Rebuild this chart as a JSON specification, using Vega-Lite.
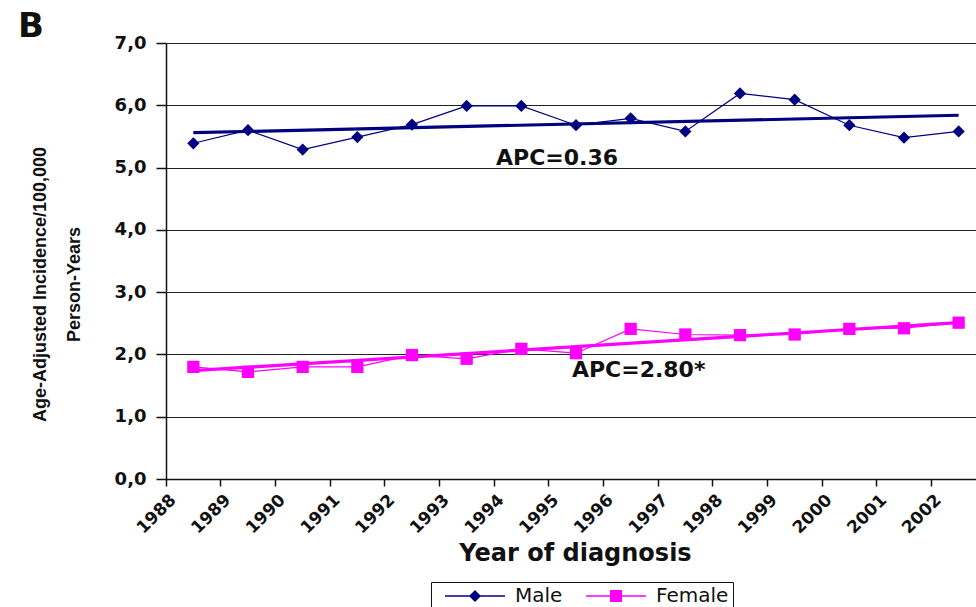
{
  "$schema": "https://vega.github.io/schema/vega-lite/v6.json",
  "width": 810,
  "height": 436,
  "autosize": {"type": "none"},
  "padding": {"left": 166, "top": 43, "right": 0, "bottom": 128},
  "background": "white",
  "title": {"text": "B", "anchor": "start", "frame": "group", "dx": -148, "dy": 16, "offset": 6, "font": "DejaVu Sans", "fontSize": 34, "fontWeight": "bold", "color": "#111"},
  "datasets": {
    "obs": [
      {"year": "1988", "sex": "Male", "rate": 5.39},
      {"year": "1989", "sex": "Male", "rate": 5.6},
      {"year": "1990", "sex": "Male", "rate": 5.29},
      {"year": "1991", "sex": "Male", "rate": 5.49},
      {"year": "1992", "sex": "Male", "rate": 5.69},
      {"year": "1993", "sex": "Male", "rate": 5.99},
      {"year": "1994", "sex": "Male", "rate": 5.99},
      {"year": "1995", "sex": "Male", "rate": 5.68},
      {"year": "1996", "sex": "Male", "rate": 5.79},
      {"year": "1997", "sex": "Male", "rate": 5.58},
      {"year": "1998", "sex": "Male", "rate": 6.19},
      {"year": "1999", "sex": "Male", "rate": 6.09},
      {"year": "2000", "sex": "Male", "rate": 5.68},
      {"year": "2001", "sex": "Male", "rate": 5.48},
      {"year": "2002", "sex": "Male", "rate": 5.58},
      {"year": "1988", "sex": "Female", "rate": 1.8},
      {"year": "1989", "sex": "Female", "rate": 1.72},
      {"year": "1990", "sex": "Female", "rate": 1.8},
      {"year": "1991", "sex": "Female", "rate": 1.8},
      {"year": "1992", "sex": "Female", "rate": 1.99},
      {"year": "1993", "sex": "Female", "rate": 1.93},
      {"year": "1994", "sex": "Female", "rate": 2.09},
      {"year": "1995", "sex": "Female", "rate": 2.02},
      {"year": "1996", "sex": "Female", "rate": 2.41},
      {"year": "1997", "sex": "Female", "rate": 2.32},
      {"year": "1998", "sex": "Female", "rate": 2.31},
      {"year": "1999", "sex": "Female", "rate": 2.32},
      {"year": "2000", "sex": "Female", "rate": 2.41},
      {"year": "2001", "sex": "Female", "rate": 2.42},
      {"year": "2002", "sex": "Female", "rate": 2.51}
    ],
    "trend": [
      {"year": "1988", "sex": "Male", "rate": 5.56},
      {"year": "2002", "sex": "Male", "rate": 5.84},
      {"year": "1988", "sex": "Female", "rate": 1.74},
      {"year": "2002", "sex": "Female", "rate": 2.51}
    ],
    "apcMale": [{"year": "1995", "rate": 5.15, "label": "APC=0.36"}],
    "apcFemale": [{"year": "1996", "rate": 1.75, "label": "APC=2.80*"}]
  },
  "encoding": {
    "x": {
      "field": "year", "type": "ordinal", "bandPosition": 0.5,
      "scale": {"type": "band", "range": [0, 820], "paddingInner": 0, "paddingOuter": 0},
      "axis": {
        "title": "Year of diagnosis",
        "titleFont": "DejaVu Sans", "titleFontSize": 24, "titleFontWeight": "bold", "titleColor": "#111",
        "titleX": 409, "titleY": 81, "titleBaseline": "alphabetic", "titleAlign": "center",
        "bandPosition": 0, "labelAngle": -45, "labelAlign": "right", "labelBaseline": "middle",
        "labelFont": "DejaVu Sans", "labelFontSize": 17, "labelFontWeight": "bold", "labelColor": "#111",
        "labelPadding": 11, "labelOffset": -20,
        "tickSize": 7, "tickColor": "#111", "tickWidth": 1.5,
        "domainColor": "#111", "domainWidth": 1.5, "grid": false
      }
    },
    "y": {
      "field": "rate", "type": "quantitative",
      "scale": {"domain": [0, 7], "nice": false, "zero": true},
      "axis": {
        "values": [0, 1, 2, 3, 4, 5, 6, 7],
        "labelExpr": "replace(format(datum.value, '.1f'), '.', ',')",
        "labelFont": "DejaVu Sans", "labelFontSize": 18, "labelFontWeight": "bold", "labelColor": "#111",
        "labelPadding": 10, "tickSize": 10, "tickColor": "#111", "tickWidth": 1.5,
        "domainColor": "#111", "domainWidth": 1.5,
        "grid": true, "gridColor": "#222", "gridWidth": 1.2,
        "title": ["Age-Adjusted Incidence/100,000", "Person-Years"],
        "titleFont": "Liberation Sans", "titleFontSize": 18, "titleFontWeight": "bold", "titleColor": "#111",
        "titleAngle": 270, "titleAlign": "center", "titleBaseline": "middle",
        "titleX": -126, "titleY": 241, "titleLineHeight": 34
      }
    }
  },
  "layer": [
    {
      "data": {"name": "obs"},
      "mark": {"type": "line", "strokeWidth": 1.2},
      "encoding": {
        "color": {
          "field": "sex", "type": "nominal",
          "scale": {"domain": ["Male", "Female"], "range": ["#000080", "#FF00FF"]},
          "legend": {
            "title": null, "orient": "none", "legendX": 265, "legendY": 539, "direction": "horizontal",
            "strokeColor": "#111", "fillColor": "white", "padding": 4,
            "symbolSize": 400, "symbolOpacity": 1, "symbolStrokeWidth": 0,
            "labelFont": "DejaVu Sans", "labelFontSize": 20, "labelColor": "#111",
            "labelOffset": 60, "columnPadding": 13, "labelLimit": 300
          }
        }
      }
    },
    {
      "data": {"name": "trend"},
      "mark": {"type": "line", "strokeWidth": 3.2},
      "encoding": {
        "color": {"field": "sex", "type": "nominal"}
      }
    },
    {
      "data": {"name": "obs"},
      "mark": {"type": "point", "filled": true, "opacity": 0, "size": 150},
      "encoding": {
        "color": {"field": "sex", "type": "nominal"},
        "shape": {
          "field": "sex", "type": "nominal",
          "scale": {"domain": ["Male", "Female"], "range": ["M0,-0.075H6V0.075H0Z M3,-0.6L3.6,0L3,0.6L2.4,0Z", "M0,-0.075H6V0.075H0Z M2.4,-0.6H3.6V0.6H2.4Z"]},
          "legend": null
        }
      }
    },
    {
      "data": {"name": "obs"},
      "transform": [{"filter": "datum.sex === 'Male'"}],
      "mark": {"type": "point", "filled": true, "opacity": 1, "size": 150, "shape": "diamond"},
      "encoding": {
        "color": {"field": "sex", "type": "nominal"}
      }
    },
    {
      "data": {"name": "obs"},
      "transform": [{"filter": "datum.sex === 'Female'"}],
      "mark": {"type": "point", "filled": true, "opacity": 1, "size": 150, "shape": "square"},
      "encoding": {
        "color": {"field": "sex", "type": "nominal"}
      }
    },
    {
      "data": {"name": "apcMale"},
      "mark": {"type": "text", "font": "DejaVu Sans", "fontSize": 22, "fontWeight": "bold", "color": "#111", "dx": -19, "align": "center", "baseline": "middle"},
      "encoding": {"text": {"field": "label"}}
    },
    {
      "data": {"name": "apcFemale"},
      "mark": {"type": "text", "font": "DejaVu Sans", "fontSize": 22, "fontWeight": "bold", "color": "#111", "dx": 8, "align": "center", "baseline": "middle"},
      "encoding": {"text": {"field": "label"}}
    }
  ],
  "config": {"view": {"stroke": null}}
}
